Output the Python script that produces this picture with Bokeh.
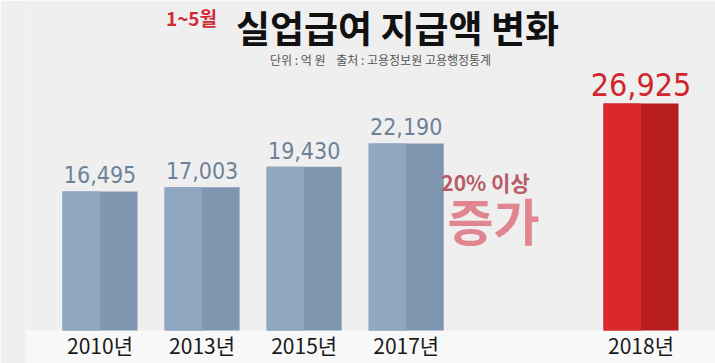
from bokeh.plotting import figure
from bokeh.models import FactorRange, Range1d, Label, ColumnDataSource, BoxAnnotation
from bokeh.transform import dodge
from bokeh.core.properties import value
from bokeh.embed import file_html
from bokeh.resources import INLINE

# ---- data ----
years = ["2010년", "2013년", "2015년", "2017년", "2018년"]
periods = ["이전", "이전", "이전", "이전", "2018"]
amounts = [16495, 17003, 19430, 22190, 26925]
amount_labels = ["16,495", "17,003", "19,430", "22,190", "26,925"]

title_red = "1~5월"
title_main = "실업급여 지급액 변화"
subtitle = "단위 : 억 원\u00a0\u00a0\u00a0\u00a0출처 : 고용정보원 고용행정통계"
note_small = "20% 이상"
note_big = "증가"

# ---- styles ----
left_colors = ["#8fa7c0", "#8fa7c0", "#8fa7c0", "#8fa7c0", "#d9292c"]
right_colors = ["#7e96b0", "#7e96b0", "#7e96b0", "#7e96b0", "#b71c1f"]
label_colors = ["#6d8297", "#6d8297", "#6d8297", "#6d8297", "#d0262c"]
label_sizes = ["23px", "23px", "23px", "23px", "32px"]

factors = list(zip(periods, years))
src = ColumnDataSource(dict(x=factors, amt=amounts, lab=amount_labels, yr=years,
                            lc=left_colors, rc=right_colors, tc=label_colors,
                            ts=label_sizes))

BG = "#efefef"
p = figure(width=715, height=363, output_backend="svg", toolbar_location=None,
           x_range=FactorRange(*factors, group_padding=1.3, range_padding=0.23,
                               range_padding_units="absolute"),
           y_range=Range1d(-3920, 39150), y_axis_location=None, x_axis_location=None,
           min_border_left=25, min_border_right=0, min_border_top=0, min_border_bottom=0)
p.background_fill_color = BG
p.border_fill_color = BG
p.outline_line_color = None
p.grid.visible = False

p.add_layout(BoxAnnotation(top=0, fill_color="#f8f8f8", fill_alpha=1, line_color=None,
                           level="underlay"))

W = 0.735
p.vbar(x="x", top="amt", width=W, fill_color="rc", line_color=None, source=src)
p.vbar(x=dodge("x", -W / 4, range=p.x_range), top="amt", width=W / 2,
       fill_color="lc", line_color=None, source=src)

num_font = value("'DejaVu Sans Condensed', 'Roboto'")
p.text(x="x", y="amt", text="lab", text_color="tc", text_font_size="ts",
       text_font=num_font, text_align="center",
       text_baseline="bottom", y_offset=-8, source=src)
p.text(x="x", y=0, text="yr", text_color="#1a1a1a", text_font_size="21px",
       text_font=value("Noto Sans CJK KR"), text_align="center",
       text_baseline="middle", y_offset=15, source=src)

cjk = "Noto Sans CJK KR"
p.add_layout(Label(x=166, y=346, x_units="screen", y_units="screen", text=title_red,
                   text_font=cjk, text_font_style="bold", text_font_size="19px",
                   text_color="#d22a33", text_align="center", text_baseline="middle"))
p.add_layout(Label(x=372, y=337, x_units="screen", y_units="screen", text=title_main,
                   text_font=cjk, text_font_style="bold", text_font_size="37px",
                   text_color="#111111", text_align="center", text_baseline="middle"))
p.add_layout(Label(x=355, y=304, x_units="screen", y_units="screen", text=subtitle,
                   text_font=cjk, text_font_size="12px",
                   text_color="#555555", text_align="center", text_baseline="middle"))
p.add_layout(Label(x=460, y=182, x_units="screen", y_units="screen", text=note_small,
                   text_font=cjk, text_font_style="bold", text_font_size="21px",
                   text_color="#b95c68", text_align="center", text_baseline="middle"))
p.add_layout(Label(x=468, y=145, x_units="screen", y_units="screen", text=note_big,
                   text_font=cjk, text_font_style="bold", text_font_size="50px",
                   text_color="#e18690", text_align="center", text_baseline="middle"))

open("out.html", "w").write(file_html(p, INLINE))
